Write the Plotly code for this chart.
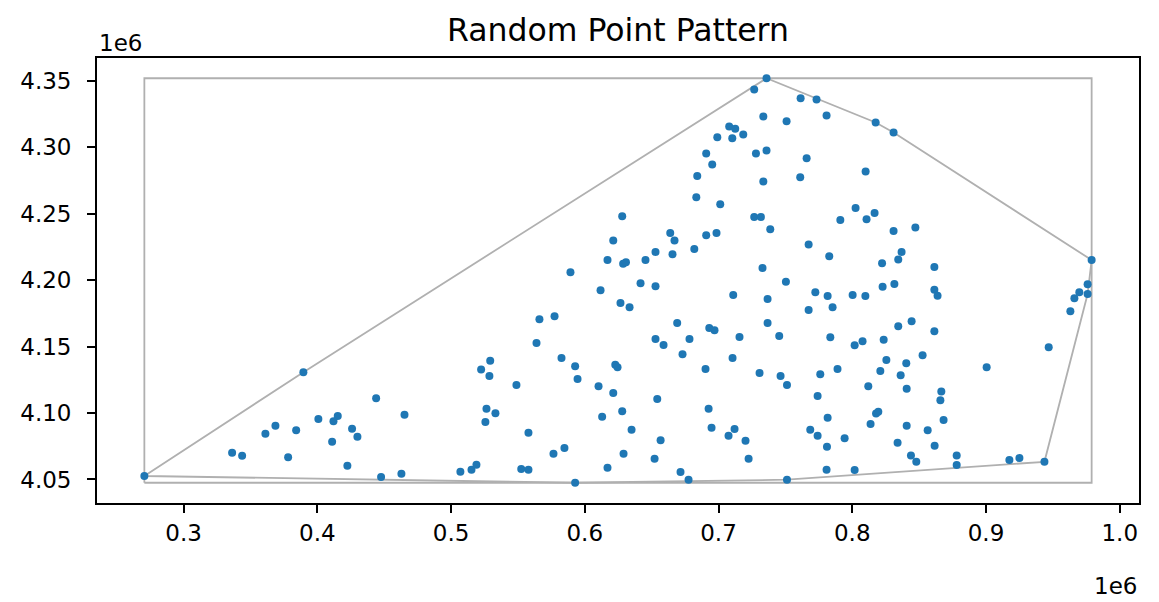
import plotly.graph_objects as go

# point coordinates, in thousands of metres
x_km = [
    270.7, 389.6, 444.0, 465.2, 400.8, 415.3, 412.1, 368.7, 361.2, 384.2,
    426.0, 430.0, 411.1, 336.3, 343.8, 378.2, 422.5, 447.7, 462.9,
    611.8, 641.7, 652.9, 711.0, 736.7, 750.4, 626.7, 633.5, 566.1, 577.4,
    669.1, 693.1, 697.0, 736.7, 652.9, 658.9, 678.3, 715.7, 745.4, 563.9,
    673.1, 529.3, 522.5, 528.7, 582.6, 592.8, 594.6, 622.8, 624.5, 710.5,
    690.3, 730.7, 746.4, 751.2, 548.9, 610.3, 621.3, 654.2, 526.5, 533.2,
    525.7, 613.0, 628.0, 692.6, 557.9, 635.0, 694.8, 712.0, 707.5, 720.2,
    656.7, 576.6, 584.8, 629.0, 652.2, 722.5, 507.0, 515.3, 519.0, 552.5,
    557.9, 617.0, 671.6, 677.6, 592.8, 751.2,
    735.9, 726.7, 733.5, 750.9, 708.0, 712.5, 718.5, 699.1, 710.3, 690.8,
    728.0, 735.9, 695.3, 684.1, 733.5, 683.4, 701.3, 726.7, 731.7, 738.7,
    628.0, 621.3, 663.9, 667.1, 690.8, 698.5, 652.9, 665.6, 681.9, 617.0,
    628.7, 630.8, 645.4, 589.3, 732.9,
    761.4, 773.3, 780.8, 817.5, 830.9, 765.9, 761.1, 810.0, 802.5, 816.7,
    810.7, 791.1, 830.9, 847.2, 767.4, 782.8, 836.9, 834.4, 822.3, 861.4,
    979.0, 976.0,
    772.4, 781.6, 800.3, 809.8, 822.7, 831.5, 861.4, 863.8, 767.4, 785.3,
    969.8, 966.1, 976.0, 963.1, 783.6, 801.8, 807.7, 823.5, 834.4, 844.4,
    861.4, 946.9, 900.5, 776.1, 789.0, 825.5, 821.0, 840.4, 852.6, 836.2,
    812.0, 840.7, 866.6, 865.9, 774.1, 781.6, 817.8, 819.5, 813.7, 840.7,
    856.4, 868.3, 768.6, 774.1, 794.3, 781.1, 833.9, 861.6, 843.9, 847.9,
    878.1, 878.1, 917.5, 925.0, 943.7, 780.8, 801.8,
]
y_km = [
    4052.6, 4130.8, 4111.2, 4098.7, 4095.6, 4097.7, 4093.9, 4090.4, 4084.4, 4087.1,
    4088.1, 4082.1, 4078.4, 4070.1, 4067.8, 4066.8, 4060.3, 4051.8, 4054.3,
    4192.4, 4197.7, 4195.4, 4188.9, 4185.9, 4198.9, 4182.9, 4179.6, 4170.6, 4172.9,
    4167.8, 4164.1, 4162.3, 4167.8, 4155.8, 4151.3, 4155.8, 4157.3, 4158.1, 4152.8,
    4144.3, 4139.3, 4132.7, 4127.8, 4141.5, 4135.3, 4125.7, 4136.3, 4134.5, 4141.5,
    4133.2, 4130.2, 4127.8, 4121.2, 4121.2, 4120.2, 4115.0, 4110.5, 4103.2, 4099.9,
    4093.2, 4097.2, 4101.4, 4103.2, 4085.1, 4087.4, 4088.9, 4087.9, 4082.9, 4079.1,
    4079.6, 4069.3, 4073.6, 4069.3, 4065.6, 4065.6, 4055.8, 4057.3, 4061.1, 4057.8,
    4057.3, 4058.8, 4055.6, 4049.8, 4047.5, 4049.8,
    4352.1, 4343.6, 4323.3, 4319.7, 4315.8, 4314.0, 4309.7, 4307.7, 4307.0, 4295.5,
    4295.5, 4297.7, 4287.2, 4278.4, 4274.4, 4262.4, 4257.3, 4247.6, 4247.6, 4238.3,
    4248.1, 4230.0, 4235.5, 4230.0, 4233.8, 4235.5, 4221.2, 4219.5, 4223.5, 4215.2,
    4212.4, 4213.5, 4215.2, 4206.0, 4209.2,
    4337.0, 4336.1, 4324.0, 4318.8, 4311.2, 4291.9, 4277.6, 4281.9, 4254.3, 4250.6,
    4246.0, 4245.3, 4237.0, 4239.8, 4227.0, 4218.0, 4221.2, 4215.7, 4212.7, 4210.0,
    4215.2, 4196.9,
    4190.9, 4188.1, 4188.9, 4188.1, 4195.1, 4197.2, 4192.9, 4188.4, 4177.6, 4179.6,
    4190.9, 4186.4, 4189.6, 4176.6, 4157.1, 4151.1, 4154.1, 4155.1, 4165.4, 4169.1,
    4161.6, 4149.6, 4134.5, 4129.3, 4133.2, 4140.0, 4131.7, 4137.5, 4143.5, 4128.5,
    4120.2, 4118.2, 4116.2, 4109.7, 4112.9, 4096.4, 4099.6, 4100.9, 4091.7, 4090.4,
    4087.1, 4094.7, 4087.4, 4082.9, 4081.1, 4074.6, 4077.6, 4075.3, 4068.0, 4063.3,
    4068.0, 4060.8, 4064.6, 4066.1, 4063.3, 4057.3, 4057.1,
]

x_ticks = [0.3, 0.4, 0.5, 0.6, 0.7, 0.8, 0.9, 1.0]
y_ticks = [4.05, 4.10, 4.15, 4.20, 4.25, 4.30, 4.35]

xs = [v * 1000 for v in x_km]
ys = [v * 1000 for v in y_km]


def convex_hull(pts):
    pts = sorted(set(pts))

    def cross(o, a, b):
        return (a[0] - o[0]) * (b[1] - o[1]) - (a[1] - o[1]) * (b[0] - o[0])

    lower = []
    for p in pts:
        while len(lower) >= 2 and cross(lower[-2], lower[-1], p) <= 0:
            lower.pop()
        lower.append(p)
    upper = []
    for p in reversed(pts):
        while len(upper) >= 2 and cross(upper[-2], upper[-1], p) <= 0:
            upper.pop()
        upper.append(p)
    return lower[:-1] + upper[:-1]


hull = convex_hull(list(zip(xs, ys)))
hull.append(hull[0])

x0, x1 = min(xs), max(xs)
y0, y1 = min(ys), max(ys)
mx = (x1 - x0) * 0.05
my = (y1 - y0) * 0.05

grey = "#b0b0b0"
font = "DejaVu Sans"

fig = go.Figure()

# bounding box
fig.add_trace(go.Scatter(
    x=[x0, x1, x1, x0, x0], y=[y0, y0, y1, y1, y0],
    mode="lines", line=dict(color=grey, width=1.8), hoverinfo="skip",
))
# convex hull
fig.add_trace(go.Scatter(
    x=[p[0] for p in hull], y=[p[1] for p in hull],
    mode="lines", line=dict(color=grey, width=1.8), hoverinfo="skip",
))
# points
fig.add_trace(go.Scatter(
    x=xs, y=ys, mode="markers",
    marker=dict(color="#1f77b4", size=8, line=dict(width=0)),
))

axis_style = dict(
    showgrid=False, zeroline=False, showline=True, mirror=True,
    linecolor="black", linewidth=1.8,
    ticks="outside", ticklen=8, tickwidth=1.8, tickcolor="black",
    tickfont=dict(family=font, size=23, color="black"),
)

# the page body has an 8px margin, so the figure is a little smaller
fig.update_layout(
    width=1151, height=594, autosize=False,
    margin=dict(l=89, r=20, t=50, b=99),
    paper_bgcolor="white", plot_bgcolor="white",
    showlegend=False,
    xaxis=dict(range=[x0 - mx, x1 + mx], tickvals=[t * 1e6 for t in x_ticks],
               ticktext=["%.1f" % t for t in x_ticks], ticklabelstandoff=0,
               **axis_style),
    yaxis=dict(range=[y0 - my, y1 + my], tickvals=[t * 1e6 for t in y_ticks],
               ticktext=["%.2f" % t for t in y_ticks], ticklabelstandoff=11,
               **axis_style),
    annotations=[
        dict(text="Random Point Pattern", x=0.5, y=1, xref="paper", yref="paper",
             xanchor="center", yanchor="bottom", yshift=8, showarrow=False,
             font=dict(family=font, size=31.5, color="black")),
        dict(text="1e6", x=0, y=1, xref="paper", yref="paper",
             xanchor="left", yanchor="bottom", yshift=0, showarrow=False,
             font=dict(family=font, size=23, color="black")),
        dict(text="1e6", x=1, y=0, xref="paper", yref="paper",
             xanchor="right", yanchor="top", yshift=-68, showarrow=False,
             font=dict(family=font, size=23, color="black")),
    ],
)

fig.write_html("out.html")
